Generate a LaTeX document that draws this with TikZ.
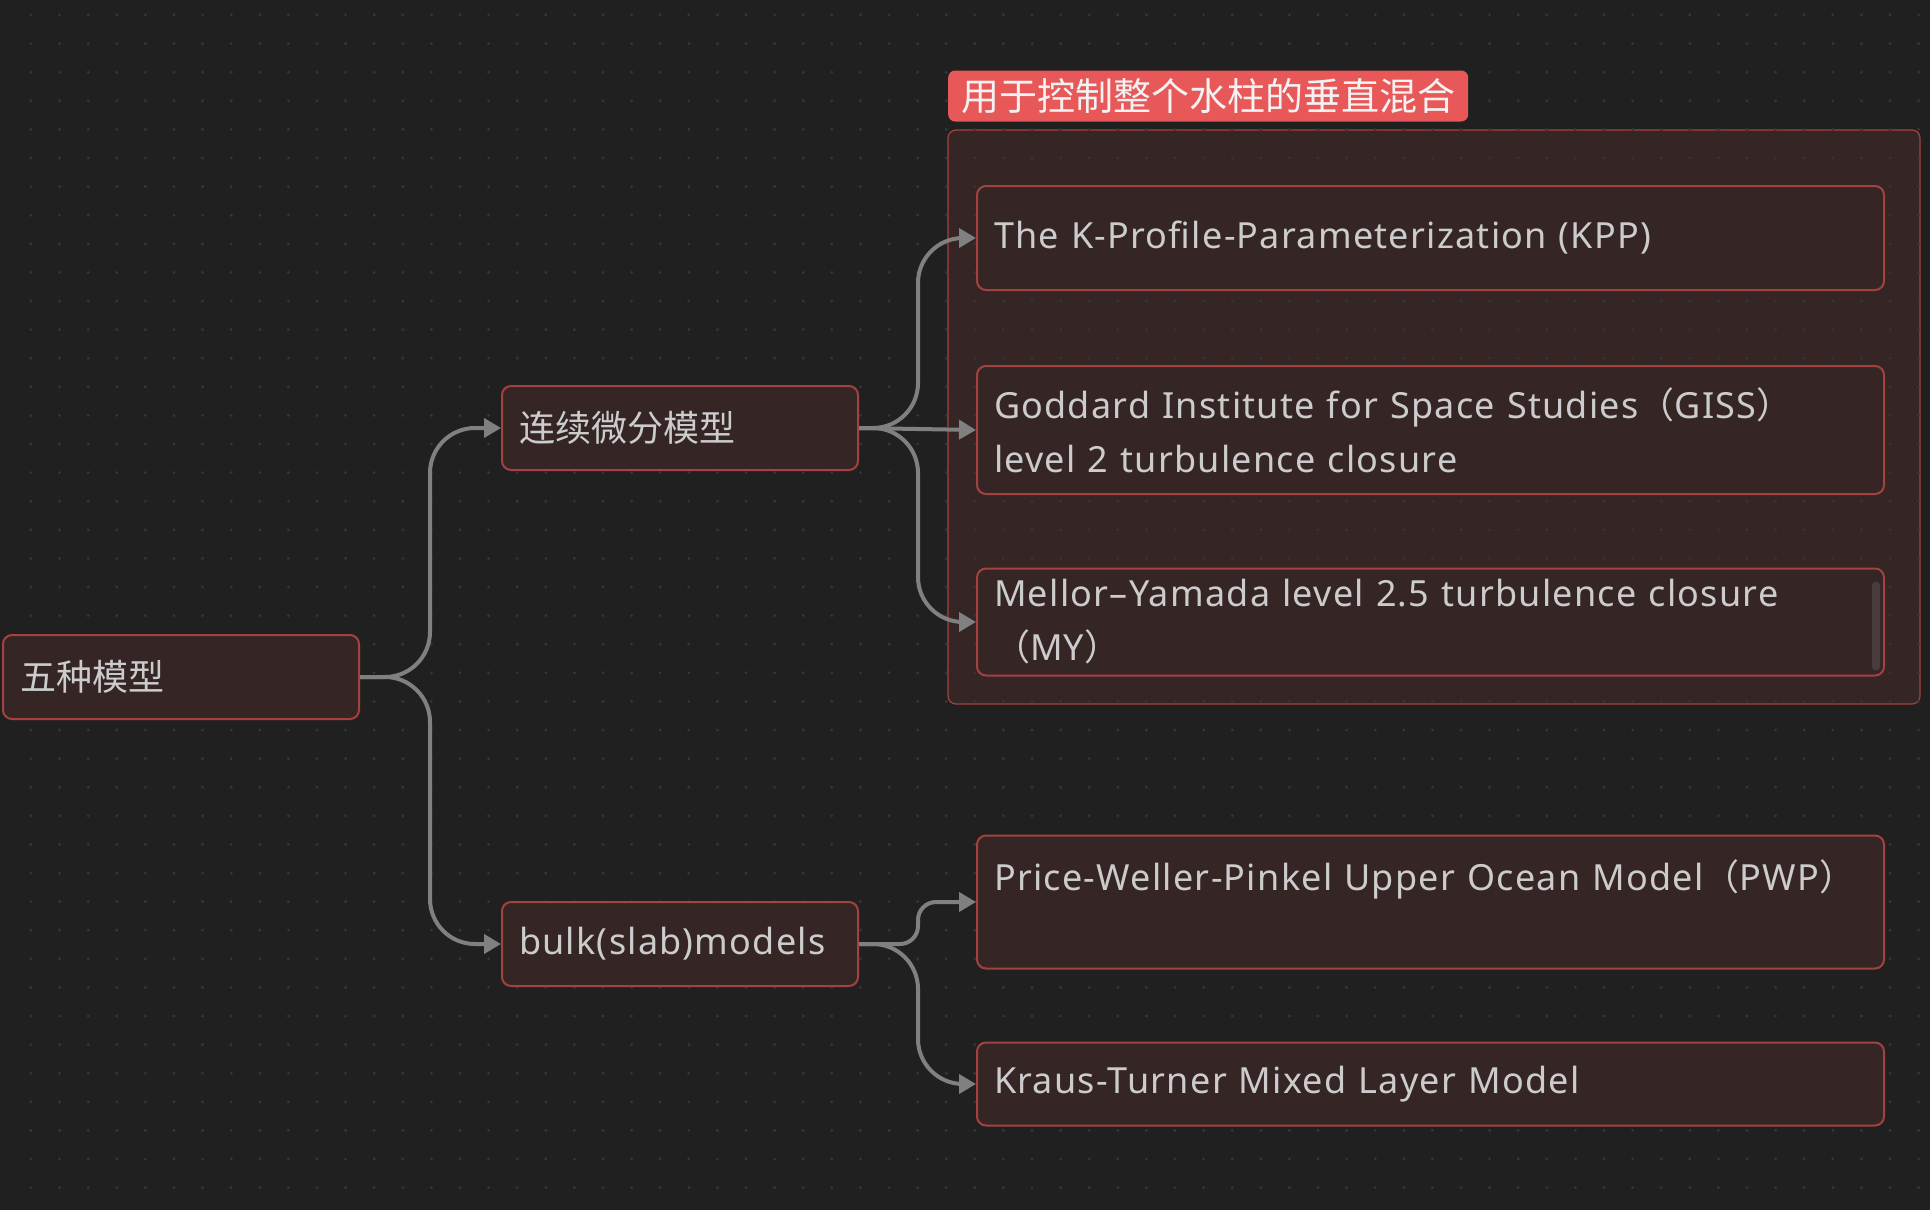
\documentclass[tikz,border=0pt]{standalone}
\usepackage{fontspec}
\setmainfont{Noto Sans}[LetterSpace=3.5]
\newfontfamily\cjk{Noto Sans CJK SC}
\usetikzlibrary{arrows.meta}
\definecolor{canvasbg}{RGB}{32,32,32}
\definecolor{griddot}{RGB}{54,54,54}
\definecolor{boxfill}{RGB}{53,37,37}
\definecolor{boxline}{RGB}{164,66,64}
\definecolor{tagred}{RGB}{232,88,88}
\definecolor{linkgray}{RGB}{128,128,128}
\definecolor{textgray}{RGB}{204,204,204}
\definecolor{scrollgray}{RGB}{72,60,60}

\begin{document}
\begin{tikzpicture}[x=1pt,y=-1pt,>={Triangle[length=17pt,width=19pt]}]

%
% Styles
%
\tikzstyle{topic} = [rectangle,rounded corners=9pt,draw=boxline,fill=boxfill,line width=2pt,anchor=west,inner xsep=17pt,inner ysep=0pt,text=textgray,font=\fontsize{36}{54}\selectfont,align=left]
\tikzstyle{branch} = [topic,minimum width=356pt,minimum height=84pt,text width=322pt]
\tikzstyle{leaf} = [topic,minimum width=907pt,text width=873pt]
\tikzstyle{group} = [rectangle,rounded corners=8pt,draw=boxline,fill=boxfill,line width=1.2pt,minimum width=972pt,minimum height=574pt,inner sep=0pt]
\tikzstyle{tag} = [rectangle,rounded corners=7pt,fill=tagred,anchor=west,minimum height=51pt,inner xsep=13pt,inner ysep=0pt,text={rgb,255:red,242;green,242;blue,242},font=\fontsize{38}{46}\selectfont]
\tikzstyle{scrollbar} = [rectangle,rounded corners=4pt,fill=scrollgray,minimum width=8pt,minimum height=89pt,inner sep=0pt]
\tikzstyle{link} = [->,draw=linkgray,line width=4pt,rounded corners=45pt]

% canvas
\fill[canvasbg] (0,0) rectangle (1930,1210);
\useasboundingbox (0,0) rectangle (1930,1210);

\node[group] (mix) at (1434,417) {};

% dotted grid
\foreach \i in {0,...,67}
  \foreach \j in {0,...,42}
    \fill[griddot] (31+28.6*\i,15+28.6*\j) circle (1.6pt);

\node[tag] (note) at (948,96) {\cjk 用于控制整个水柱的垂直混合};

\node[branch] (root) at (2,677)   {\cjk 五种模型};
\node[branch] (cont) at (501,428) {\cjk 连续微分模型};
\node[branch] (bulk) at (501,944) {bulk(slab)models};

\node[leaf,minimum height=104pt] (kpp)  at (976,238)  {The K-Profile-Parameterization (KPP)};
\node[leaf,minimum height=128pt] (giss) at (976,430)  {Goddard Institute for Space Studies{\cjk （}GISS{\cjk ）}\\level 2 turbulence closure};
\node[leaf,minimum height=107pt] (my)   at (976,622)  {Mellor–Yamada level 2.5 turbulence closure\\{\cjk （}MY{\cjk ）}};
\node[leaf,minimum height=133pt] (pwp)  at (976,902)  {Price-Weller-Pinkel Upper Ocean Model{\cjk （}PWP{\cjk ）}\\\mbox{}};
\node[leaf,minimum height=83pt]  (kt)   at (976,1084) {Kraus-Turner Mixed Layer Model};

\node[scrollbar] (myscroll) at (1876,626) {};

\draw[link] (root.east) -- ++(70,0) |- (cont.west);
\draw[link] (root.east) -- ++(70,0) |- (bulk.west);
\draw[link] (cont.east) -- ++(59,0) |- (kpp.west);
\draw[link] (cont.east) -- (giss.west);
\draw[link] (cont.east) -- ++(59,0) |- (my.west);
\draw[link,rounded corners=18pt] (bulk.east) -- ++(59,0) |- (pwp.west);
\draw[link] (bulk.east) -- ++(59,0) |- (kt.west);

\end{tikzpicture}
\end{document}
